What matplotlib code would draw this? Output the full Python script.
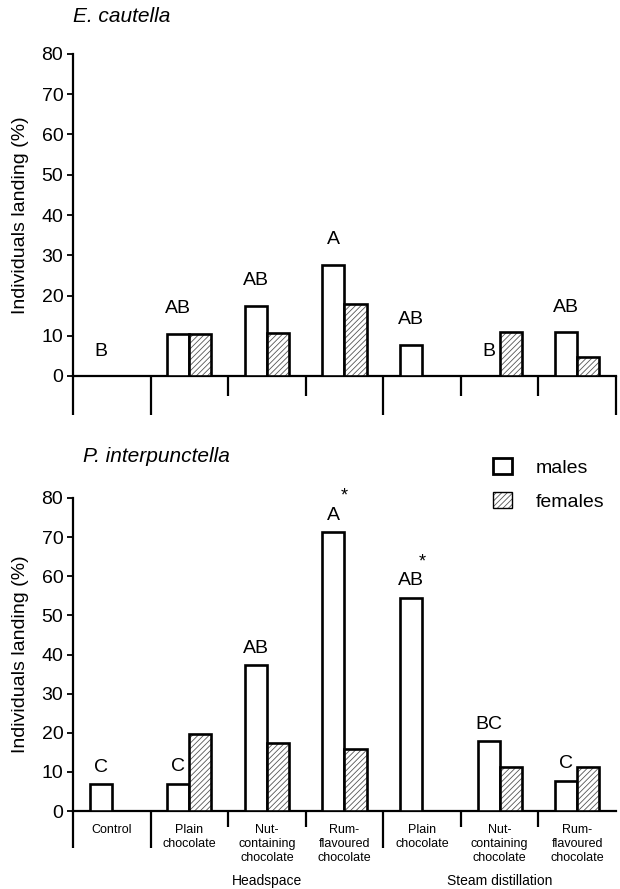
import matplotlib
matplotlib.use('Agg')
import matplotlib.pyplot as plt
from matplotlib.patches import Patch

plt.rcParams['font.family'] = ['Liberation Sans', 'DejaVu Sans']
plt.rcParams['hatch.linewidth'] = 0.6
plt.rcParams['hatch.color'] = '#555555'

# ---- data ----
categories = ['Control', 'Plain\nchocolate', 'Nut-\ncontaining\nchocolate',
              'Rum-\nflavoured\nchocolate', 'Plain\nchocolate',
              'Nut-\ncontaining\nchocolate', 'Rum-\nflavoured\nchocolate']
groups = ['Headspace', 'Steam distillation']
group_members = [[1, 2, 3], [4, 5, 6]]

ec_males = [0, 10.5, 17.4, 27.6, 7.8, 0, 10.9]
ec_females = [0, 10.5, 10.7, 17.8, 0, 10.9, 4.7]
ec_letters = ['B', 'AB', 'AB', 'A', 'AB', 'B', 'AB']

pi_males = [6.9, 7.0, 37.3, 71.2, 54.5, 17.8, 7.7]
pi_females = [0, 19.6, 17.3, 15.9, 0, 11.3, 11.3]
pi_letters = ['C', 'C', 'AB', 'A', 'AB', 'BC', 'C']
pi_stars = [False, False, False, True, True, False, False]

yticks = [0, 10, 20, 30, 40, 50, 60, 70, 80]
titles = ['E. cautella', 'P. interpunctella']
ylabel = 'Individuals landing (%)'
legend_labels = ['males', 'females']

W, H = 620, 889
fig = plt.figure(figsize=(W / 100, H / 100), dpi=100)

def fx(px):
    return px / W

def fy(py):
    return 1 - py / H

ax1 = fig.add_axes([fx(73), fy(376), fx(616) - fx(73), fy(54) - fy(376)])
ax2 = fig.add_axes([fx(73), fy(811), fx(616) - fx(73), fy(498) - fy(811)])

bw = 0.285
EDGE = 1.9


def draw_panel(ax, males, females, letters, stars, long_div, short_div,
               long_len, short_len, letter_off):
    n = len(males)
    xm = [i + 0.5 - bw / 2 for i in range(n)]
    xf = [i + 0.5 + bw / 2 for i in range(n)]
    ax.bar(xm, males, width=bw, facecolor='white', edgecolor='black',
           linewidth=EDGE, zorder=3)
    ax.bar(xf, females, width=bw, facecolor='white', edgecolor='#555555',
           hatch='//////', linewidth=0, zorder=3)
    ax.bar(xf, females, width=bw, facecolor='none', edgecolor='black',
           linewidth=EDGE, zorder=4)
    ax.set_xlim(0, n)
    ax.set_ylim(0, 80)
    ax.set_yticks(yticks)
    ax.set_xticks([])
    ax.tick_params(axis='y', labelsize=14, length=4, width=1.3, pad=3)
    for s in ['top', 'right']:
        ax.spines[s].set_visible(False)
    for s in ['left', 'bottom']:
        ax.spines[s].set_linewidth(1.6)
    for k in long_div:
        ax.plot([k, k], [0, -long_len], color='black', lw=1.6,
                clip_on=False, solid_capstyle='butt')
    for k in short_div:
        ax.plot([k, k], [0, -short_len], color='black', lw=1.6,
                clip_on=False, solid_capstyle='butt')
    for i, (lab, m) in enumerate(zip(letters, males)):
        ax.annotate(lab, xy=(xm[i], m), xytext=(0, letter_off),
                    textcoords='offset pixels', ha='center', va='center',
                    fontsize=14)
    for i, st in enumerate(stars):
        if st:
            ax.annotate('*', xy=(i + 0.5, males[i]), xytext=(0, 36),
                        textcoords='offset pixels', ha='center',
                        va='center', fontsize=13)
    ax.set_ylabel(ylabel, fontsize=14)


draw_panel(ax1, ec_males, ec_females, ec_letters, [False] * 7,
           [0, 1, 4, 7], [2, 3, 5, 6], 9.7, 5.0, 25)
draw_panel(ax2, pi_males, pi_females, pi_letters, pi_stars,
           [0, 1, 4], [2, 3, 5, 6], 9.5, 4.1, 17)

for ax, cy in [(ax1, 215), (ax2, 654)]:
    ax.yaxis.set_label_coords(fx(29), fy(cy), transform=fig.transFigure)

# category labels
for i, c in enumerate(categories):
    ax2.annotate(c, xy=(i + 0.5, 0), xytext=(0, -13),
                 textcoords='offset pixels', ha='center', va='top',
                 fontsize=9, linespacing=1.2)
for g, mem in zip(groups, group_members):
    cx = (min(mem) + max(mem) + 1) / 2
    ax2.annotate(g, xy=(cx, 0), xytext=(0, -70),
                 textcoords='offset pixels', ha='center', va='center',
                 fontsize=10)

fig.text(fx(73), fy(17), titles[0], style='italic', fontsize=15,
         ha='left', va='center')
fig.text(fx(83), fy(457), titles[1], style='italic', fontsize=15,
         ha='left', va='center')

h_m = Patch(facecolor='white', edgecolor='black', linewidth=2.0)
h_f = (Patch(facecolor='white', edgecolor='#555555', hatch='//////',
             linewidth=0),
       Patch(facecolor='none', edgecolor='black', linewidth=1.0))
fig.legend([h_m, h_f], legend_labels, loc='upper left',
           bbox_to_anchor=(fx(493), fy(458)), frameon=False, fontsize=14,
           handlelength=1.0, handleheight=0.9, handletextpad=1.2,
           labelspacing=0.8, borderpad=0, borderaxespad=0)

fig.savefig('out.png', dpi=100)
